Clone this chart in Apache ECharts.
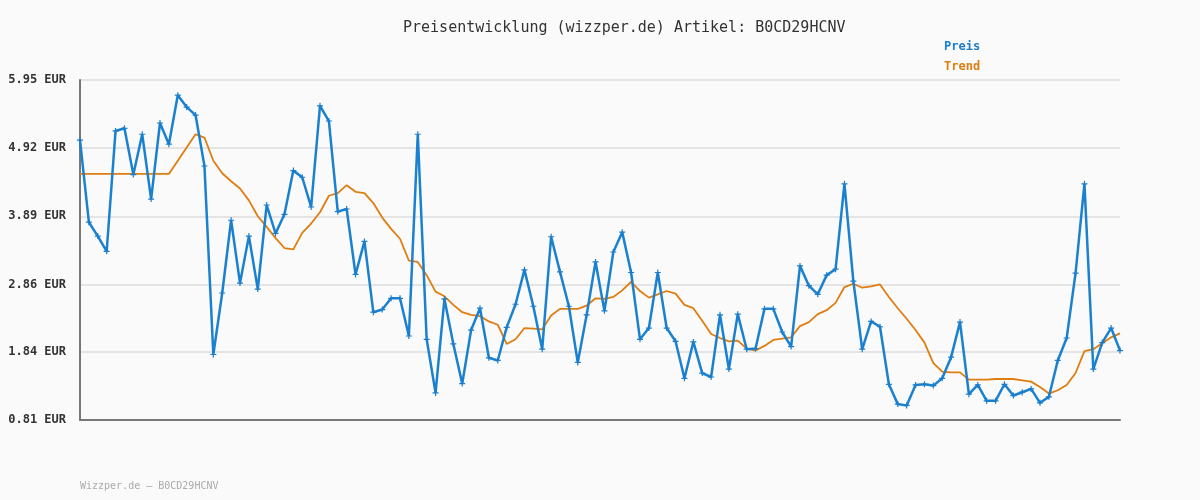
<!DOCTYPE html>
<html>
<head>
<meta charset="utf-8">
<script src="https://cdn.jsdelivr.net/npm/echarts@6/dist/echarts.min.js"></script>
<style>
html,body{margin:0;padding:0;background:#fafafa;}
#chart{width:1200px;height:500px;}
</style>
</head>
<body>
<div id="chart"></div>
<script>
const titleText = 'Preisentwicklung (wizzper.de) Artikel: B0CD29HCNV';
const footerText = 'Wizzper.de \u2013 B0CD29HCNV';
const yTicks = [0.81, 1.84, 2.86, 3.89, 4.92, 5.95];
const preis = [
 5.04, 3.80, 3.59, 3.36, 5.18, 5.22, 4.52, 5.13, 4.15, 5.30,
 4.98, 5.72, 5.54, 5.42, 4.65, 1.80, 2.73, 3.83, 2.88, 3.59,
 2.79, 4.06, 3.63, 3.92, 4.58, 4.48, 4.03, 5.56, 5.33, 3.96,
 4.00, 3.01, 3.51, 2.44, 2.48, 2.65, 2.65, 2.08, 5.13, 2.03,
 1.22, 2.64, 1.96, 1.36, 2.17, 2.50, 1.75, 1.71, 2.21, 2.56,
 3.08, 2.53, 1.88, 3.58, 3.05, 2.53, 1.68, 2.40, 3.20, 2.46,
 3.35, 3.65, 3.04, 2.03, 2.20, 3.04, 2.20, 2.00, 1.44, 1.99,
 1.52, 1.46, 2.40, 1.58, 2.41, 1.88, 1.89, 2.49, 2.49, 2.14,
 1.92, 3.14, 2.84, 2.71, 3.00, 3.09, 4.38, 2.91, 1.88, 2.30,
 2.22, 1.35, 1.05, 1.03, 1.34, 1.35, 1.33, 1.44, 1.76, 2.29,
 1.20, 1.34, 1.10, 1.10, 1.35, 1.18, 1.23, 1.28, 1.07, 1.16,
 1.71, 2.05, 3.03, 4.38, 1.58, 1.98, 2.20, 1.86
];
const trend = [
 4.53, 4.53, 4.53, 4.53, 4.53, 4.53, 4.53, 4.53, 4.53, 4.53,
 4.53, 4.73, 4.93, 5.13, 5.08, 4.73, 4.54, 4.42, 4.31, 4.13,
 3.89, 3.73, 3.56, 3.41, 3.39, 3.64, 3.78, 3.95, 4.20, 4.24,
 4.36, 4.26, 4.24, 4.09, 3.87, 3.70, 3.55, 3.22, 3.20, 3.00,
 2.75, 2.68, 2.55, 2.44, 2.40, 2.38, 2.30, 2.25, 1.96, 2.03,
 2.20, 2.19, 2.18, 2.39, 2.49, 2.49, 2.49, 2.54, 2.65, 2.64,
 2.67, 2.77, 2.90, 2.76, 2.66, 2.71, 2.76, 2.72, 2.55, 2.50,
 2.31, 2.11, 2.05, 2.00, 2.01, 1.89, 1.86, 1.93, 2.02, 2.04,
 2.06, 2.23, 2.29, 2.41, 2.47, 2.58, 2.82, 2.87, 2.81, 2.83,
 2.86, 2.67, 2.50, 2.34, 2.17, 1.98, 1.67, 1.54, 1.53, 1.53,
 1.42, 1.42, 1.42, 1.43, 1.43, 1.43, 1.41, 1.39, 1.31, 1.21,
 1.26, 1.34, 1.52, 1.85, 1.88, 1.97, 2.06, 2.12
];
const categories = preis.map((_, i) => String(i + 1));

const mono = '"DejaVu Sans Mono", "Liberation Mono", monospace';
const chart = echarts.init(document.getElementById('chart'));
chart.setOption({
  backgroundColor: '#fafafa',
  animation: false,
  title: [{
    text: titleText,
    left: 403,
    top: 21,
    padding: 0,
    textStyle: {fontFamily: mono, fontSize: 15, fontWeight: 'normal', color: '#333'}
  }, {
    text: footerText,
    left: 80,
    top: 481,
    padding: 0,
    textStyle: {fontFamily: mono, fontSize: 10, fontWeight: 'normal', color: '#aaa'}
  }],
  legend: {
    orient: 'vertical',
    left: 944,
    top: 40,
    padding: 0,
    itemGap: 6,
    itemWidth: 0,
    itemHeight: 0,
    icon: 'none',
    selectedMode: false,
    data: [
      {name: 'Preis', textStyle: {color: '#1a7ccc'}},
      {name: 'Trend', textStyle: {color: '#e07d10'}}
    ],
    textStyle: {fontFamily: mono, fontSize: 12, fontWeight: 'bold', lineHeight: 14, padding: [0,0,0,-5]}
  },
  grid: {left: 80, right: 80, top: 80, bottom: 80, containLabel: false},
  xAxis: {
    type: 'category',
    data: categories,
    boundaryGap: false,
    axisLine: {show: true, lineStyle: {color: '#777', width: 2}},
    axisTick: {show: false},
    axisLabel: {show: false},
    splitLine: {show: false}
  },
  yAxis: {
    type: 'value',
    min: yTicks[0],
    max: yTicks[yTicks.length - 1],
    axisLine: {show: true, onZero: false, lineStyle: {color: '#777', width: 2}},
    axisTick: {show: false, customValues: yTicks},
    axisLabel: {
      customValues: yTicks,
      formatter: v => v.toFixed(2) + ' EUR',
      fontFamily: mono, fontSize: 12, fontWeight: 'bold', color: '#333', margin: 14
    },
    splitLine: {show: true, lineStyle: {color: '#e4e4e4', width: 2}}
  },
  series: [{
    name: 'Preis',
    type: 'line',
    data: preis,
    symbol: 'path://M2,0H3V2H5V3H3V5H2V3H0V2H2Z',
    symbolSize: 6,
    showAllSymbol: true,
    itemStyle: {color: '#1a7ccc'},
    lineStyle: {color: '#1a80d0', width: 2.5},
    z: 3
  }, {
    name: 'Trend',
    type: 'line',
    data: trend,
    symbol: 'none',
    lineStyle: {color: '#e07d10', width: 1.8},
    itemStyle: {color: '#e07d10'},
    z: 2
  }]
});
</script>
</body>
</html>
